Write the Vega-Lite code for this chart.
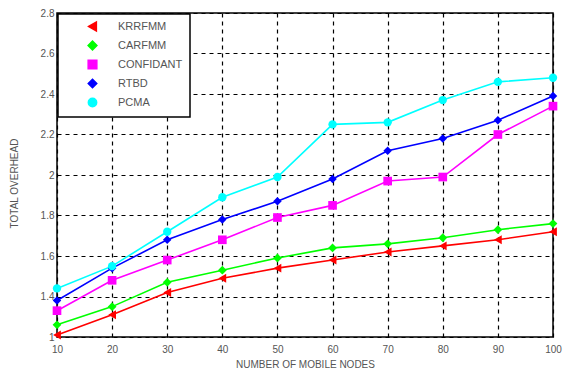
{
  "$schema": "https://vega.github.io/schema/vega-lite/v6.json",
  "width": 496,
  "height": 324,
  "autosize": {"type": "none"},
  "padding": {"left": 57, "top": 13, "right": 22, "bottom": 38},
  "background": "white",
  "config": {
    "view": {"stroke": "black", "strokeWidth": 1.5},
    "font": "Liberation Sans",
    "legend": {"strokeWidth": 1.5},
    "axis": {
      "gridColor": "black",
      "gridDash": [4, 4],
      "gridWidth": 1.2,
      "gridOpacity": 1,
      "domain": false,
      "ticks": false,
      "labelFont": "Liberation Sans",
      "labelFontSize": 10,
      "labelColor": "#555",
      "titleFont": "Liberation Sans",
      "titleFontSize": 10,
      "titleFontWeight": "normal",
      "titleColor": "#555"
    }
  },
  "data": {
    "values": [
      {"nodes": 10, "series": "KRRFMM", "overhead": 1.21},
      {"nodes": 20, "series": "KRRFMM", "overhead": 1.31},
      {"nodes": 30, "series": "KRRFMM", "overhead": 1.42},
      {"nodes": 40, "series": "KRRFMM", "overhead": 1.49},
      {"nodes": 50, "series": "KRRFMM", "overhead": 1.54},
      {"nodes": 60, "series": "KRRFMM", "overhead": 1.58},
      {"nodes": 70, "series": "KRRFMM", "overhead": 1.62},
      {"nodes": 80, "series": "KRRFMM", "overhead": 1.65},
      {"nodes": 90, "series": "KRRFMM", "overhead": 1.68},
      {"nodes": 100, "series": "KRRFMM", "overhead": 1.72},
      {"nodes": 10, "series": "CARFMM", "overhead": 1.26},
      {"nodes": 20, "series": "CARFMM", "overhead": 1.35},
      {"nodes": 30, "series": "CARFMM", "overhead": 1.47},
      {"nodes": 40, "series": "CARFMM", "overhead": 1.53},
      {"nodes": 50, "series": "CARFMM", "overhead": 1.59},
      {"nodes": 60, "series": "CARFMM", "overhead": 1.64},
      {"nodes": 70, "series": "CARFMM", "overhead": 1.66},
      {"nodes": 80, "series": "CARFMM", "overhead": 1.69},
      {"nodes": 90, "series": "CARFMM", "overhead": 1.73},
      {"nodes": 100, "series": "CARFMM", "overhead": 1.76},
      {"nodes": 10, "series": "CONFIDANT", "overhead": 1.33},
      {"nodes": 20, "series": "CONFIDANT", "overhead": 1.48},
      {"nodes": 30, "series": "CONFIDANT", "overhead": 1.58},
      {"nodes": 40, "series": "CONFIDANT", "overhead": 1.68},
      {"nodes": 50, "series": "CONFIDANT", "overhead": 1.79},
      {"nodes": 60, "series": "CONFIDANT", "overhead": 1.85},
      {"nodes": 70, "series": "CONFIDANT", "overhead": 1.97},
      {"nodes": 80, "series": "CONFIDANT", "overhead": 1.99},
      {"nodes": 90, "series": "CONFIDANT", "overhead": 2.2},
      {"nodes": 100, "series": "CONFIDANT", "overhead": 2.34},
      {"nodes": 10, "series": "RTBD", "overhead": 1.38},
      {"nodes": 20, "series": "RTBD", "overhead": 1.54},
      {"nodes": 30, "series": "RTBD", "overhead": 1.68},
      {"nodes": 40, "series": "RTBD", "overhead": 1.78},
      {"nodes": 50, "series": "RTBD", "overhead": 1.87},
      {"nodes": 60, "series": "RTBD", "overhead": 1.98},
      {"nodes": 70, "series": "RTBD", "overhead": 2.12},
      {"nodes": 80, "series": "RTBD", "overhead": 2.18},
      {"nodes": 90, "series": "RTBD", "overhead": 2.27},
      {"nodes": 100, "series": "RTBD", "overhead": 2.39},
      {"nodes": 10, "series": "PCMA", "overhead": 1.44},
      {"nodes": 20, "series": "PCMA", "overhead": 1.55},
      {"nodes": 30, "series": "PCMA", "overhead": 1.72},
      {"nodes": 40, "series": "PCMA", "overhead": 1.89},
      {"nodes": 50, "series": "PCMA", "overhead": 1.99},
      {"nodes": 60, "series": "PCMA", "overhead": 2.25},
      {"nodes": 70, "series": "PCMA", "overhead": 2.26},
      {"nodes": 80, "series": "PCMA", "overhead": 2.37},
      {"nodes": 90, "series": "PCMA", "overhead": 2.46},
      {"nodes": 100, "series": "PCMA", "overhead": 2.48}
    ]
  },
  "encoding": {
    "x": {
      "field": "nodes",
      "type": "quantitative",
      "scale": {"domain": [10, 100], "nice": false, "zero": false},
      "axis": {
        "title": "NUMBER OF MOBILE NODES",
        "values": [10, 20, 30, 40, 50, 60, 70, 80, 90, 100],
        "labelPadding": 7,
        "titleY": 22,
        "labelFlush": false
      }
    },
    "y": {
      "field": "overhead",
      "type": "quantitative",
      "scale": {"domain": [1.2, 2.8], "nice": false, "zero": false},
      "axis": {
        "title": "TOTAL OVERHEAD",
        "values": [1.2, 1.4, 1.6, 1.8, 2, 2.2, 2.4, 2.6, 2.8],
        "format": "~g",
        "labelExpr": "datum.value < 1.3 ? '1' : datum.label",
        "labelPadding": 3,
        "titleX": -38,
        "titleY": 170,
        "titleAnchor": "middle"
      }
    },
    "color": {
      "field": "series",
      "type": "nominal",
      "scale": {
        "domain": ["KRRFMM", "CARFMM", "CONFIDANT", "RTBD", "PCMA"],
        "range": ["#ff0000", "#00ff00", "#ff00ff", "#0000ff", "#00ffff"]
      },
      "legend": {
        "title": null,
        "orient": "top-left",
        "offset": 1,
        "fillColor": "white",
        "strokeColor": "black",
        "padding": 7,
        "labelFont": "Liberation Sans",
        "labelFontSize": 11,
        "labelColor": "#555",
        "symbolSize": 90,
        "symbolStrokeWidth": 1.5,
        "symbolOffset": 22,
        "labelOffset": 20,
        "rowPadding": 4
      }
    }
  },
  "layer": [
    {
      "mark": {"type": "line", "strokeWidth": 1.6},
      "encoding": {}
    },
    {
      "mark": {"type": "point", "filled": true, "opacity": 1},
      "encoding": {
        "shape": {
          "field": "series",
          "type": "nominal",
          "scale": {
            "domain": ["KRRFMM", "CARFMM", "CONFIDANT", "RTBD", "PCMA"],
            "range": ["triangle-left", "diamond", "square", "diamond", "circle"]
          },
          "legend": null
        },
        "size": {
          "field": "series",
          "type": "nominal",
          "scale": {
            "domain": ["KRRFMM", "CARFMM", "CONFIDANT", "RTBD", "PCMA"],
            "range": [80, 70, 110, 45, 85]
          },
          "legend": null
        }
      }
    }
  ]
}
